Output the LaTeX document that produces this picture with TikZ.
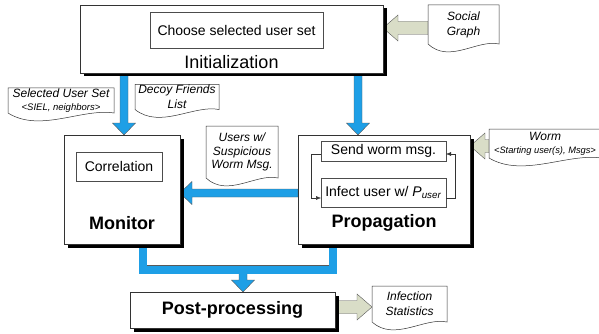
\documentclass[tikz,border=0pt]{standalone}
\usepackage{fontspec}
\setmainfont{Liberation Sans}
\usetikzlibrary{calc,shadows,backgrounds,arrows.meta}
\definecolor{flowblue}{HTML}{1E9FE6}
\definecolor{docgreen}{HTML}{D9DDC7}
\pgfdeclarelayer{docbg}
\pgfsetlayers{background,docbg,main}
\tikzset{
  box/.style={draw=black!80,fill=white,line width=0.6pt,inner sep=0pt,outer sep=0pt,
    drop shadow={shadow xshift=3.5pt,shadow yshift=-3.5pt,fill=black,opacity=1}},
  innerbox/.style={draw=black!70,fill=white,line width=0.5pt,inner sep=0pt,outer sep=0pt},
  doc/.style={inner sep=0pt,outer sep=0pt,align=center,font=\fontsize{12}{15}\selectfont\itshape},
  docline/.style={draw=black!80,fill=white,line width=0.5pt},
  bluearrow/.style={fill=flowblue,draw=black!65,line width=0.4pt},
  greenarrow/.style={fill=docgreen,draw=black!65,line width=0.4pt},
  loopline/.style={draw=black!80,line width=0.5pt,-{Latex[length=5pt,width=4pt]}},
  midfont/.style={font=\fontsize{14}{16}\selectfont},
  bigfont/.style={font=\fontsize{18}{20}\selectfont},
  boldfont/.style={font=\fontsize{18}{20}\selectfont\bfseries},
}
% block arrow: style, from, to, half shaft, half head, head length
\newcommand\blockarrow[6]{%
  \draw[#1] ($#2!#4!90:#3$) -- ($($#3!#6!#2$)!#4!90:#3$) -- ($($#3!#6!#2$)!#5!90:#3$) -- #3
    -- ($($#3!#6!#2$)!#5!-90:#3$) -- ($($#3!#6!#2$)!#4!-90:#3$) -- ($#2!#4!-90:#3$) -- cycle;}
\newcommand\bluearrow[2]{\blockarrow{bluearrow}{#1}{#2}{4pt}{11.5pt}{12pt}}
\newcommand\greenarrow[2]{\blockarrow{greenarrow}{#1}{#2}{6.5pt}{13pt}{15pt}}
% document shape with wavy bottom
\newcommand\docshape[1]{%
  \begin{pgfonlayer}{docbg}
  \draw[docline] (#1.south west) -- (#1.north west) -- (#1.north east) -- (#1.south east)
    .. controls ($(#1.south east)!0.3!(#1.south west)+(0,-5)$) and ($(#1.south east)!0.7!(#1.south west)+(0,20)$) .. (#1.south west) -- cycle;
  \end{pgfonlayer}}
\begin{document}
\begin{tikzpicture}[x=1pt,y=-1pt]
\useasboundingbox (0,0) rectangle (599,334);

% main blocks
\node[box,minimum width=303,minimum height=68] (init) at (231.5,39) {};
\node[innerbox,midfont,minimum width=173,minimum height=36] (choose) at (236.5,30) {Choose selected user set};
\node[bigfont] (initlbl) at (231.5,62) {Initialization};

\node[box,minimum width=116,minimum height=109] (mon) at (122,189.5) {};
\node[innerbox,midfont,minimum width=86,minimum height=29] (corr) at (119,166.5) {Correlation};
\node[boldfont] (monlbl) at (122,223) {Monitor};

\node[box,minimum width=172,minimum height=109] (prop) at (384,189.5) {};
\node[innerbox,midfont,minimum width=125,minimum height=20] (send) at (383.5,151) {Send worm msg.};
\node[innerbox,midfont,minimum width=125,minimum height=29] (infect) at (383.5,192.5) {Infect user w/ \textit{P}\textsubscript{\textit{user}}};
\node[boldfont] (proplbl) at (384,223) {Propagation};

\node[box,boldfont,minimum width=205,minimum height=36] (post) at (232.5,310) {Post-processing};

% documents
\node[doc,minimum width=71,minimum height=39] (social) at (463.5,24.5) {Social\\Graph};
\docshape{social}
\node[doc,minimum width=106,minimum height=25] (selset) at (61,100.5)
  {Selected User Set\\[-2pt]{\fontsize{9.5}{11}\selectfont\itshape <SIEL, neighbors>}};
\docshape{selset}
\node[doc,minimum width=84,minimum height=25] (decoy) at (177,97) {Decoy Friends\\List};
\docshape{decoy}
\node[doc,minimum width=72,minimum height=52,font=\fontsize{12}{13.5}\selectfont\itshape] (susp) at (242,152)
  {Users w/\\Suspicious\\Worm Msg.};
\docshape{susp}
\node[doc,minimum width=112,minimum height=29] (worm) at (545,143.5)
  {Worm\\[-2pt]{\fontsize{9.3}{11}\selectfont\itshape <Starting user(s), Msgs>}};
\docshape{worm}
\node[doc,minimum width=75,minimum height=36] (stats) at (409.5,304) {Infection\\Statistics};
\docshape{stats}

% loop inside propagation
\draw[loopline] ($(send.west)+(0,3)$) -- ++(-10,0) |- ($(infect.west)+(0,5.5)$);
\draw[loopline] ($(infect.east)+(0,5.5)$) -- ++(9,0) |- ($(send.east)+(0,3)$);

% flow arrows
\begin{pgfonlayer}{background}
\coordinate (monin) at ($(mon.north)+(2,0)$);
\coordinate (propin) at ($(prop.north)+(-26,0)$);
\bluearrow{(init.south -| monin)}{(monin)}
\bluearrow{(init.south -| propin)}{(propin)}
\coordinate (propout) at ($(prop.west)+(0,3.5)$);
\bluearrow{(propout)}{(propout -| mon.east)}
\coordinate (monbot) at ($(mon.south west)+(79,0)$);
\coordinate (propbot) at ($(prop.south west)+(35,0)$);
\coordinate (merge) at (243,269.5);
\draw[draw=black!65,line width=8.8pt] (monbot) |- (merge) -| (propbot);
\bluearrow{(merge)}{(merge |- post.north)}
\draw[draw=flowblue,line width=8pt] (monbot) |- (merge) -| (propbot);
\coordinate (socialout) at ($(social.west)+(0,3.5)$);
\greenarrow{(socialout)}{(socialout -| init.east)}
\coordinate (wormout) at ($(worm.west)+(0,2.5)$);
\greenarrow{(wormout)}{(wormout -| prop.east)}
\coordinate (postout) at ($(post.east)+(0,-3)$);
\greenarrow{(postout)}{(postout -| stats.west)}
\end{pgfonlayer}
\end{tikzpicture}
\end{document}
